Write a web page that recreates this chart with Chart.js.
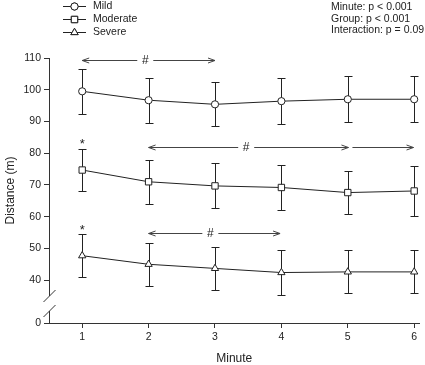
<!DOCTYPE html>
<html>
<head>
<meta charset="utf-8">
<script src="https://cdn.jsdelivr.net/npm/chart.js@4.4.1/dist/chart.umd.min.js"></script>
<style>
html, body { margin: 0; padding: 0; background: #fff; }
</style>
</head>
<body>
<canvas id="chart" width="425" height="365"></canvas>
<script>
// Minutes on the x axis
const MINUTES = [1, 2, 3, 4, 5, 6];

// Group means and SD
const MILD_MEAN = [99.5, 96.7, 95.4, 96.4, 97.0, 97.0];
const MILD_SD = [7.0, 7.1, 6.9, 7.2, 7.2, 7.3];
const MODERATE_MEAN = [74.7, 71.0, 69.7, 69.2, 67.6, 68.1];
const MODERATE_SD = [6.6, 6.9, 7.1, 7.0, 6.8, 7.8];
const SEVERE_MEAN = [47.7, 45.0, 43.7, 42.4, 42.6, 42.6];
const SEVERE_SD = [6.8, 6.8, 6.8, 7.0, 6.8, 6.8];

const SERIES_NAMES = ["Mild", "Moderate", "Severe"];

// y ticks above the break, plus the "0" that sits below it
const Y_TICKS = [40, 50, 60, 70, 80, 90, 100, 110];
const Y_BREAK_VALUE = 26.5;
const Y_BREAK_LABEL = "0";

const STATS_LINES = ["Minute: p < 0.001", "Group: p < 0.001", "Interaction: p = 0.09"];

// "#" arrows (in data units) and the "*" marks
const ARROWS = [
    { from: 1, to: 3, y: 109.4, markAt: 1.95, heads: "both" },
    { from: 2, to: 5.01, y: 82, markAt: 3.47, heads: "both" },
    { from: 5.07, to: 5.99, y: 82, markAt: null, heads: "end" },
    { from: 2, to: 3.98, y: 54.9, markAt: 2.93, heads: "both" },
];
const STARS = [
    { x: 1, y: 84.0 },
    { x: 1, y: 56.8 },
];

const FONT = "'Liberation Sans', Arial, sans-serif";
const INK = "#222";

Chart.defaults.font.family = FONT;
Chart.defaults.color = INK;

function points(means) {
    return MINUTES.map((m, i) => ({ x: m, y: means[i] }));
}

const SERIES = [
    { mean: MILD_MEAN, sd: MILD_SD, style: "circle", radius: 3.6 },
    { mean: MODERATE_MEAN, sd: MODERATE_SD, style: "rect", radius: 4.5 },
    { mean: SEVERE_MEAN, sd: SEVERE_SD, style: "triangle", radius: 4.2 },
];

// Error bars go under the markers
const errorBars = {
    id: "errorBars",
    beforeDatasetsDraw(chart) {
        const ctx = chart.ctx;
        const ys = chart.scales.y;
        ctx.save();
        ctx.strokeStyle = INK;
        ctx.lineWidth = 1;
        SERIES.forEach((s, i) => {
            const meta = chart.getDatasetMeta(i);
            meta.data.forEach((pt, j) => {
                const x = Math.round(pt.x) + 0.5;
                const top = Math.round(ys.getPixelForValue(s.mean[j] + s.sd[j])) + 0.5;
                const bot = Math.round(ys.getPixelForValue(s.mean[j] - s.sd[j])) + 0.5;
                ctx.beginPath();
                ctx.moveTo(x, top); ctx.lineTo(x, bot);
                ctx.moveTo(x - 4, top); ctx.lineTo(x + 4, top);
                ctx.moveTo(x - 4, bot); ctx.lineTo(x + 4, bot);
                ctx.stroke();
            });
        });
        ctx.restore();
    }
};

function arrowHead(ctx, x, y, dir) {
    ctx.moveTo(x + dir * 7, y - 2.5);
    ctx.lineTo(x, y);
    ctx.lineTo(x + dir * 7, y + 2.5);
}

// Axis break, annotations, legend and stats text
const decorations = {
    id: "decorations",
    afterDraw(chart) {
        const ctx = chart.ctx;
        const xs = chart.scales.x;
        const ys = chart.scales.y;
        const area = chart.chartArea;
        ctx.save();

        // y axis line with a break near the bottom
        const ax = Math.round(area.left) + 0.5;
        const bottom = Math.round(area.bottom);
        ctx.strokeStyle = "#333";
        ctx.lineWidth = 1;
        ctx.beginPath();
        ctx.moveTo(ax, area.top);
        ctx.lineTo(ax, bottom - 27);
        ctx.moveTo(ax, bottom - 12);
        ctx.lineTo(ax, bottom + 0.5);
        ctx.moveTo(ax - 6, bottom - 21); ctx.lineTo(ax + 6, bottom - 33);
        ctx.moveTo(ax - 6, bottom - 6); ctx.lineTo(ax + 6, bottom - 18);
        ctx.stroke();

        // "#" arrows
        ctx.strokeStyle = "#444";
        ctx.fillStyle = INK;
        ctx.font = "12px " + FONT;
        ctx.textAlign = "center";
        ctx.textBaseline = "middle";
        ARROWS.forEach(a => {
            const x1 = xs.getPixelForValue(a.from);
            const x2 = xs.getPixelForValue(a.to);
            const y = Math.round(ys.getPixelForValue(a.y)) + 0.5;
            ctx.beginPath();
            if (a.markAt !== null) {
                const xm = xs.getPixelForValue(a.markAt);
                ctx.moveTo(x1, y); ctx.lineTo(xm - 8, y);
                ctx.moveTo(xm + 8, y); ctx.lineTo(x2, y);
                ctx.fillText("#", xm, y);
            } else {
                ctx.moveTo(x1, y); ctx.lineTo(x2, y);
            }
            if (a.heads === "both") arrowHead(ctx, x1, y, 1);
            arrowHead(ctx, x2, y, -1);
            ctx.stroke();
        });

        // "*" marks
        ctx.font = "13px " + FONT;
        ctx.textBaseline = "alphabetic";
        STARS.forEach(s => {
            ctx.fillText("*", xs.getPixelForValue(s.x), ys.getPixelForValue(s.y) + 7);
        });

        // legend, top left
        ctx.font = "10.5px " + FONT;
        ctx.textAlign = "left";
        ctx.textBaseline = "middle";
        SERIES_NAMES.forEach((name, i) => {
            const y = Math.round(6 + i * 13) + 0.5;
            ctx.strokeStyle = INK;
            ctx.beginPath();
            ctx.moveTo(63, y); ctx.lineTo(86, y);
            ctx.stroke();
            ctx.fillStyle = "#fff";
            Chart.helpers.drawPoint(ctx, {
                pointStyle: SERIES[i].style, radius: SERIES[i].radius,
                rotation: 0, borderWidth: 1
            }, 74.5, y);
            ctx.fill();
            ctx.stroke();
            ctx.fillStyle = INK;
            ctx.fillText(name, 93, y);
        });

        // statistics, top right
        STATS_LINES.forEach((line, i) => {
            ctx.fillText(line, 331, 7 + i * 11.8);
        });

        ctx.restore();
    }
};

const datasets = SERIES.map((s, i) => ({
    label: SERIES_NAMES[i],
    data: points(s.mean),
    borderColor: INK,
    borderWidth: 1,
    pointStyle: s.style,
    pointRadius: s.radius,
    pointBorderWidth: 1,
    pointBorderColor: INK,
    pointBackgroundColor: "#fff",
    tension: 0,
    clip: false
}));

const ctx = document.getElementById("chart").getContext("2d");
const chart = new Chart(ctx, {
    type: "line",
    data: { datasets: datasets },
    options: {
        responsive: false,
        animation: false,
        devicePixelRatio: 1,
        layout: { padding: { top: 58, left: 0, right: 0, bottom: 0 } },
        plugins: {
            legend: { display: false },
            tooltip: { enabled: false }
        },
        scales: {
            x: {
                type: "linear",
                min: 0.5,
                max: 6.08,
                afterBuildTicks: s => { s.ticks = MINUTES.map(v => ({ value: v })); },
                afterFit: s => { s.height = 42; },
                grid: { drawOnChartArea: false, tickLength: 5, color: "#333" },
                border: { color: "#333" },
                ticks: { font: { size: 10.5 }, color: INK, padding: 3, maxRotation: 0, autoSkip: false },
                title: {
                    display: true, text: "Minute", color: INK,
                    font: { size: 12, lineHeight: 1 }, padding: { top: 0, bottom: 0 }
                }
            },
            y: {
                min: Y_BREAK_VALUE,
                max: 110,
                afterBuildTicks: s => { s.ticks = [Y_BREAK_VALUE].concat(Y_TICKS).map(v => ({ value: v })); },
                afterFit: s => { s.width = 49; },
                grid: { drawOnChartArea: false, tickLength: 5, color: "#333" },
                border: { display: false },
                ticks: {
                    font: { size: 10.5 }, color: INK, padding: 3, autoSkip: false,
                    callback: v => (v === Y_BREAK_VALUE ? Y_BREAK_LABEL : v)
                },
                title: {
                    display: true, text: "Distance (m)", color: INK,
                    font: { size: 12 }, padding: { top: 3, bottom: 0 }
                }
            }
        }
    },
    plugins: [errorBars, decorations]
});
</script>
</body>
</html>
